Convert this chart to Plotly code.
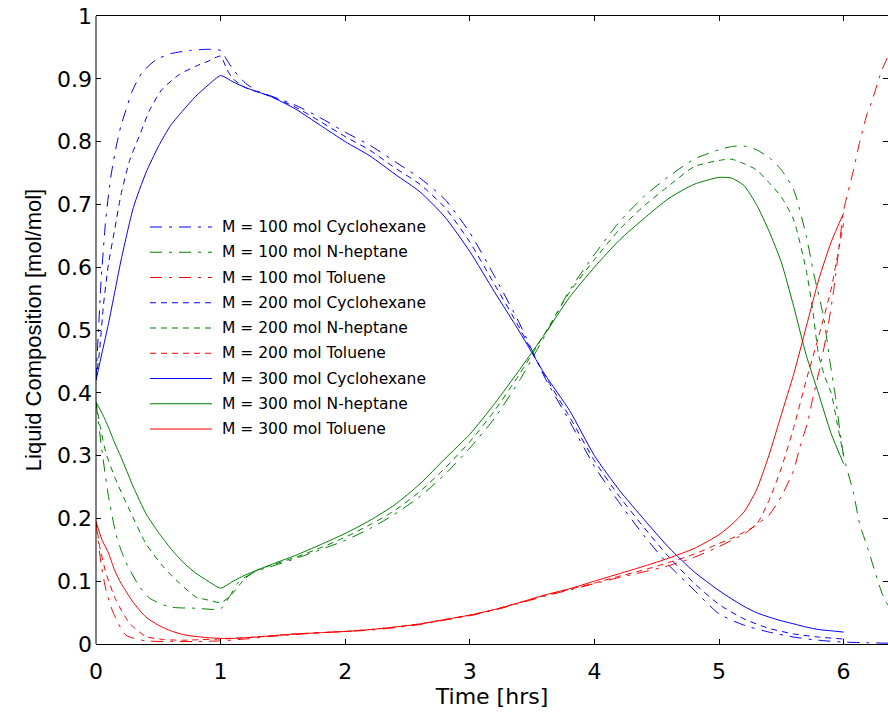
import plotly.graph_objects as go

# ---------------- data ----------------
# M = 300 mol (solid)
t_300 = [0, 0.05, 0.1, 0.15, 0.2, 0.3, 0.4, 0.5, 0.6, 0.7, 0.8, 0.9, 1.0, 1.1, 1.2, 1.4, 1.6, 1.8,
         2.0, 2.2, 2.4, 2.6, 2.8, 3.0, 3.2, 3.4, 3.6, 3.8, 4.0, 4.2, 4.4, 4.6, 4.8, 5.0, 5.1, 5.2,
         5.3, 5.4, 5.5, 5.6, 5.7, 5.8, 5.9, 6.0]
cyc_300 = [0.42, 0.465, 0.51, 0.56, 0.61, 0.695, 0.75, 0.792, 0.826, 0.85, 0.872, 0.89, 0.905, 0.895,
           0.886, 0.872, 0.852, 0.826, 0.80, 0.777, 0.748, 0.72, 0.68, 0.625, 0.56, 0.497, 0.43,
           0.372, 0.30, 0.245, 0.198, 0.153, 0.115, 0.085, 0.072, 0.06, 0.05, 0.043, 0.037, 0.032,
           0.027, 0.023, 0.021, 0.019]
hep_300 = [0.385, 0.367, 0.345, 0.32, 0.298, 0.25, 0.208, 0.178, 0.152, 0.13, 0.113, 0.10, 0.089, 0.10,
           0.11, 0.126, 0.141, 0.158, 0.176, 0.197, 0.222, 0.255, 0.295, 0.334, 0.383, 0.437, 0.493,
           0.552, 0.60, 0.643, 0.678, 0.71, 0.732, 0.743, 0.742, 0.73, 0.70, 0.658, 0.608, 0.537,
           0.46, 0.398, 0.335, 0.287]
tol_300 = [0.195, 0.165, 0.145, 0.117, 0.097, 0.066, 0.043, 0.03, 0.021, 0.015, 0.012, 0.01, 0.009, 0.009,
           0.01, 0.013, 0.016, 0.018, 0.02, 0.023, 0.027, 0.032, 0.039, 0.046, 0.055, 0.066, 0.078,
           0.088, 0.10, 0.112, 0.124, 0.137, 0.152, 0.174, 0.19, 0.21, 0.245, 0.30, 0.365, 0.43,
           0.505, 0.58, 0.64, 0.686]

# M = 200 mol (dashed)
t_200_c = [0, 0.03, 0.06, 0.1, 0.15, 0.2, 0.27, 0.35, 0.43, 0.53, 0.67, 0.8, 0.9, 1.0, 1.05, 1.1, 1.2,
           1.4, 1.6, 1.8, 2.0, 2.2, 2.4, 2.6, 2.8, 3.0, 3.2, 3.4, 3.6, 3.8, 4.0, 4.2, 4.4, 4.6, 4.8,
           5.0, 5.2, 5.4, 5.6, 5.8, 6.0]
cyc_200 = [0.42, 0.47, 0.54, 0.605, 0.66, 0.715, 0.77, 0.81, 0.85, 0.883, 0.907, 0.92, 0.928, 0.936,
           0.915, 0.9, 0.886, 0.872, 0.855, 0.832, 0.808, 0.786, 0.758, 0.732, 0.695, 0.64, 0.572,
           0.503, 0.428, 0.362, 0.292, 0.235, 0.185, 0.138, 0.097, 0.063, 0.04, 0.025, 0.016, 0.011,
           0.008]
t_200_h = [0, 0.03, 0.08, 0.16, 0.27, 0.4, 0.54, 0.67, 0.8, 0.9, 1.0, 1.07, 1.2, 1.3, 1.4, 1.6, 1.8,
           2.0, 2.2, 2.4, 2.6, 2.8, 3.0, 3.2, 3.4, 3.6, 3.8, 4.0, 4.2, 4.4, 4.6, 4.8, 5.0, 5.1, 5.2,
           5.3, 5.4, 5.5, 5.6, 5.7, 5.75, 5.8, 5.85, 5.9, 5.95, 6.0]
hep_200 = [0.385, 0.35, 0.304, 0.261, 0.213, 0.16, 0.123, 0.097, 0.075, 0.07, 0.066, 0.075, 0.105,
           0.118, 0.125, 0.138, 0.153, 0.17, 0.19, 0.213, 0.243, 0.28, 0.322, 0.372, 0.43, 0.494,
           0.56, 0.612, 0.66, 0.698, 0.73, 0.76, 0.77, 0.772, 0.765, 0.755, 0.735, 0.712, 0.675,
           0.595, 0.535, 0.46, 0.425, 0.40, 0.35, 0.30]
t_200_t = [0, 0.03, 0.08, 0.16, 0.27, 0.4, 0.55, 0.7, 0.85, 1.0, 1.2, 1.4, 1.6, 1.8, 2.0, 2.2, 2.4,
           2.6, 2.8, 3.0, 3.2, 3.4, 3.6, 3.8, 4.0, 4.2, 4.4, 4.6, 4.8, 5.0, 5.1, 5.2, 5.3, 5.4, 5.5,
           5.6, 5.7, 5.8, 5.9, 5.95, 6.0]
tol_200 = [0.195, 0.155, 0.113, 0.07, 0.033, 0.012, 0.007, 0.006, 0.007, 0.008, 0.01, 0.013, 0.016,
           0.018, 0.02, 0.023, 0.027, 0.032, 0.039, 0.046, 0.055, 0.066, 0.077, 0.087, 0.097, 0.108,
           0.118, 0.13, 0.143, 0.16, 0.168, 0.178, 0.19, 0.228, 0.28, 0.345, 0.42, 0.49, 0.565,
           0.617, 0.67]

# M = 100 mol (dash-dot)
t_100_c = [0, 0.02, 0.04, 0.08, 0.12, 0.16, 0.2, 0.24, 0.29, 0.37, 0.48, 0.6, 0.75, 0.9, 1.0, 1.05,
           1.1, 1.2, 1.3, 1.4, 1.6, 1.8, 2.0, 2.2, 2.4, 2.6, 2.8, 3.0, 3.2, 3.4, 3.6, 3.8, 4.0, 4.2,
           4.4, 4.6, 4.8, 5.0, 5.2, 5.4, 5.6, 5.8, 6.0, 6.2, 6.4]
cyc_100 = [0.42, 0.5, 0.575, 0.68, 0.745, 0.79, 0.825, 0.85, 0.88, 0.91, 0.93, 0.94, 0.945, 0.947,
           0.945, 0.93, 0.915, 0.893, 0.88, 0.873, 0.858, 0.838, 0.815, 0.794, 0.768, 0.742, 0.708,
           0.655, 0.585, 0.51, 0.425, 0.355, 0.283, 0.225, 0.172, 0.125, 0.086, 0.048, 0.03, 0.019,
           0.011, 0.006, 0.003, 0.002, 0.001]
t_100_h = [0, 0.04, 0.1, 0.16, 0.2, 0.24, 0.35, 0.43, 0.59, 0.8, 1.0, 1.07, 1.15, 1.3, 1.4, 1.6, 1.8,
           2.0, 2.2, 2.4, 2.6, 2.8, 3.0, 3.2, 3.4, 3.6, 3.8, 4.0, 4.2, 4.4, 4.6, 4.8, 5.0, 5.1, 5.2,
           5.3, 5.4, 5.5, 5.6, 5.7, 5.76, 5.84, 5.89, 5.93, 6.0, 6.08, 6.13, 6.19, 6.31, 6.4]
hep_100 = [0.385, 0.32, 0.235, 0.175, 0.15, 0.13, 0.091, 0.073, 0.059, 0.057, 0.056, 0.075, 0.10,
           0.117, 0.123, 0.136, 0.15, 0.165, 0.184, 0.207, 0.235, 0.27, 0.312, 0.36, 0.42, 0.49,
           0.563, 0.62, 0.672, 0.713, 0.745, 0.772, 0.787, 0.792, 0.793, 0.787, 0.775, 0.755, 0.723,
           0.65, 0.59, 0.52, 0.45, 0.40, 0.30, 0.24, 0.19, 0.155, 0.08, 0.045]
t_100_t = [0, 0.04, 0.08, 0.14, 0.24, 0.4, 0.6, 0.8, 1.0, 1.2, 1.4, 1.6, 1.8, 2.0, 2.2, 2.4, 2.6, 2.8,
           3.0, 3.2, 3.4, 3.6, 3.8, 4.0, 4.2, 4.4, 4.6, 4.8, 5.0, 5.1, 5.2, 5.3, 5.4, 5.5, 5.6, 5.65,
           5.71, 5.75, 5.81, 5.87, 5.92, 5.97, 6.0, 6.08, 6.13, 6.19, 6.23, 6.3, 6.4]
tol_100 = [0.195, 0.129, 0.086, 0.049, 0.014, 0.005, 0.004, 0.004, 0.005, 0.008, 0.012, 0.015, 0.018,
           0.02, 0.022, 0.026, 0.031, 0.038, 0.045, 0.054, 0.065, 0.076, 0.086, 0.096, 0.106, 0.115,
           0.125, 0.138, 0.155, 0.165, 0.175, 0.19, 0.205, 0.235, 0.277, 0.314, 0.352, 0.389, 0.44,
           0.50, 0.563, 0.643, 0.69, 0.755, 0.80, 0.845, 0.866, 0.91, 0.955]

x_ticks = [0, 1, 2, 3, 4, 5, 6]
y_ticks = [0, 0.1, 0.2, 0.3, 0.4, 0.5, 0.6, 0.7, 0.8, 0.9, 1.0]
y_tick_text = ["0", "0.1", "0.2", "0.3", "0.4", "0.5", "0.6", "0.7", "0.8", "0.9", "1"]

# ---------------- styles ----------------
BLUE, GREEN, RED = "#0000ff", "#008000", "#ff0000"
DASHDOT = "12px,7px,3px,7px"
DASH = "6px,5px"

series = [
    ("M = 100 mol Cyclohexane", t_100_c, cyc_100, BLUE, DASHDOT),
    ("M = 100 mol N-heptane", t_100_h, hep_100, GREEN, DASHDOT),
    ("M = 100 mol Toluene", t_100_t, tol_100, RED, DASHDOT),
    ("M = 200 mol Cyclohexane", t_200_c, cyc_200, BLUE, DASH),
    ("M = 200 mol N-heptane", t_200_h, hep_200, GREEN, DASH),
    ("M = 200 mol Toluene", t_200_t, tol_200, RED, DASH),
    ("M = 300 mol Cyclohexane", t_300, cyc_300, BLUE, "solid"),
    ("M = 300 mol N-heptane", t_300, hep_300, GREEN, "solid"),
    ("M = 300 mol Toluene", t_300, tol_300, RED, "solid"),
]

W, H = 888, 716
L, R, T, B = 96, 0, 16, 72
plot_w = W - L - R
plot_h = H - T - B
px_per_hr = 124.6
x_max = plot_w / px_per_hr

fig = go.Figure()
for name, t, v, col, dash in series:
    fig.add_trace(go.Scatter(x=t, y=v, mode="lines", name=name, showlegend=False,
                             line=dict(color=col, width=1, dash=dash, shape="spline", smoothing=0.6)))

# custom legend (longer line samples, as in the original); pixel positions on the page
leg_x0, leg_x1, leg_text_x = 150, 212, 220
leg_y0, leg_dy = 227, 25.25
shapes = []
annotations = []
for i, (name, t, v, col, dash) in enumerate(series):
    py = leg_y0 + i * leg_dy
    yy = (H - B - py) / plot_h
    shapes.append(dict(type="line", xref="paper", yref="paper",
                       x0=(leg_x0 - L) / plot_w, x1=(leg_x1 - L) / plot_w, y0=yy, y1=yy,
                       line=dict(color=col, width=1, dash=dash)))
    annotations.append(dict(xref="paper", yref="paper", x=(leg_text_x - L) / plot_w, y=yy,
                            xanchor="left", yanchor="middle", text=name, showarrow=False,
                            font=dict(family="DejaVu Sans", size=15.5, color="#000000")))

# left axis line (right one lies just outside the picture)
shapes.append(dict(type="line", xref="paper", yref="paper", x0=0, x1=0, y0=0, y1=1,
                   line=dict(color="#000000", width=1)))

tick_font = dict(family="DejaVu Sans", size=22, color="#000000")
xtitle_font = dict(family="DejaVu Sans", size=22, color="#000000")
ytitle_font = dict(family="Liberation Sans", size=22, color="#000000")
fig.update_layout(
    width=W, height=H,
    margin=dict(l=L, r=R, t=T, b=B, pad=0),
    paper_bgcolor="white", plot_bgcolor="white",
    shapes=shapes, annotations=annotations,
    xaxis=dict(range=[0, x_max], tickvals=x_ticks, ticks="inside", ticklen=5, tickcolor="#000000",
               showline=True, linecolor="#000000", linewidth=1, mirror="ticks",
               showgrid=False, zeroline=False, tickfont=tick_font, ticklabelstandoff=8,
               title=dict(text="Time [hrs]", font=xtitle_font, standoff=4)),
    yaxis=dict(range=[0, 1], tickvals=y_ticks, ticktext=y_tick_text, ticks="inside", ticklen=5,
               tickcolor="#000000", showline=False, mirror="ticks",
               showgrid=False, zeroline=False, tickfont=tick_font, ticklabelstandoff=3,
               title=dict(text="Liquid Composition [mol/mol]", font=ytitle_font, standoff=9)),
)

fig.write_html("out.html", config={"displayModeBar": False},
               post_script="document.body.style.margin='0px';")
